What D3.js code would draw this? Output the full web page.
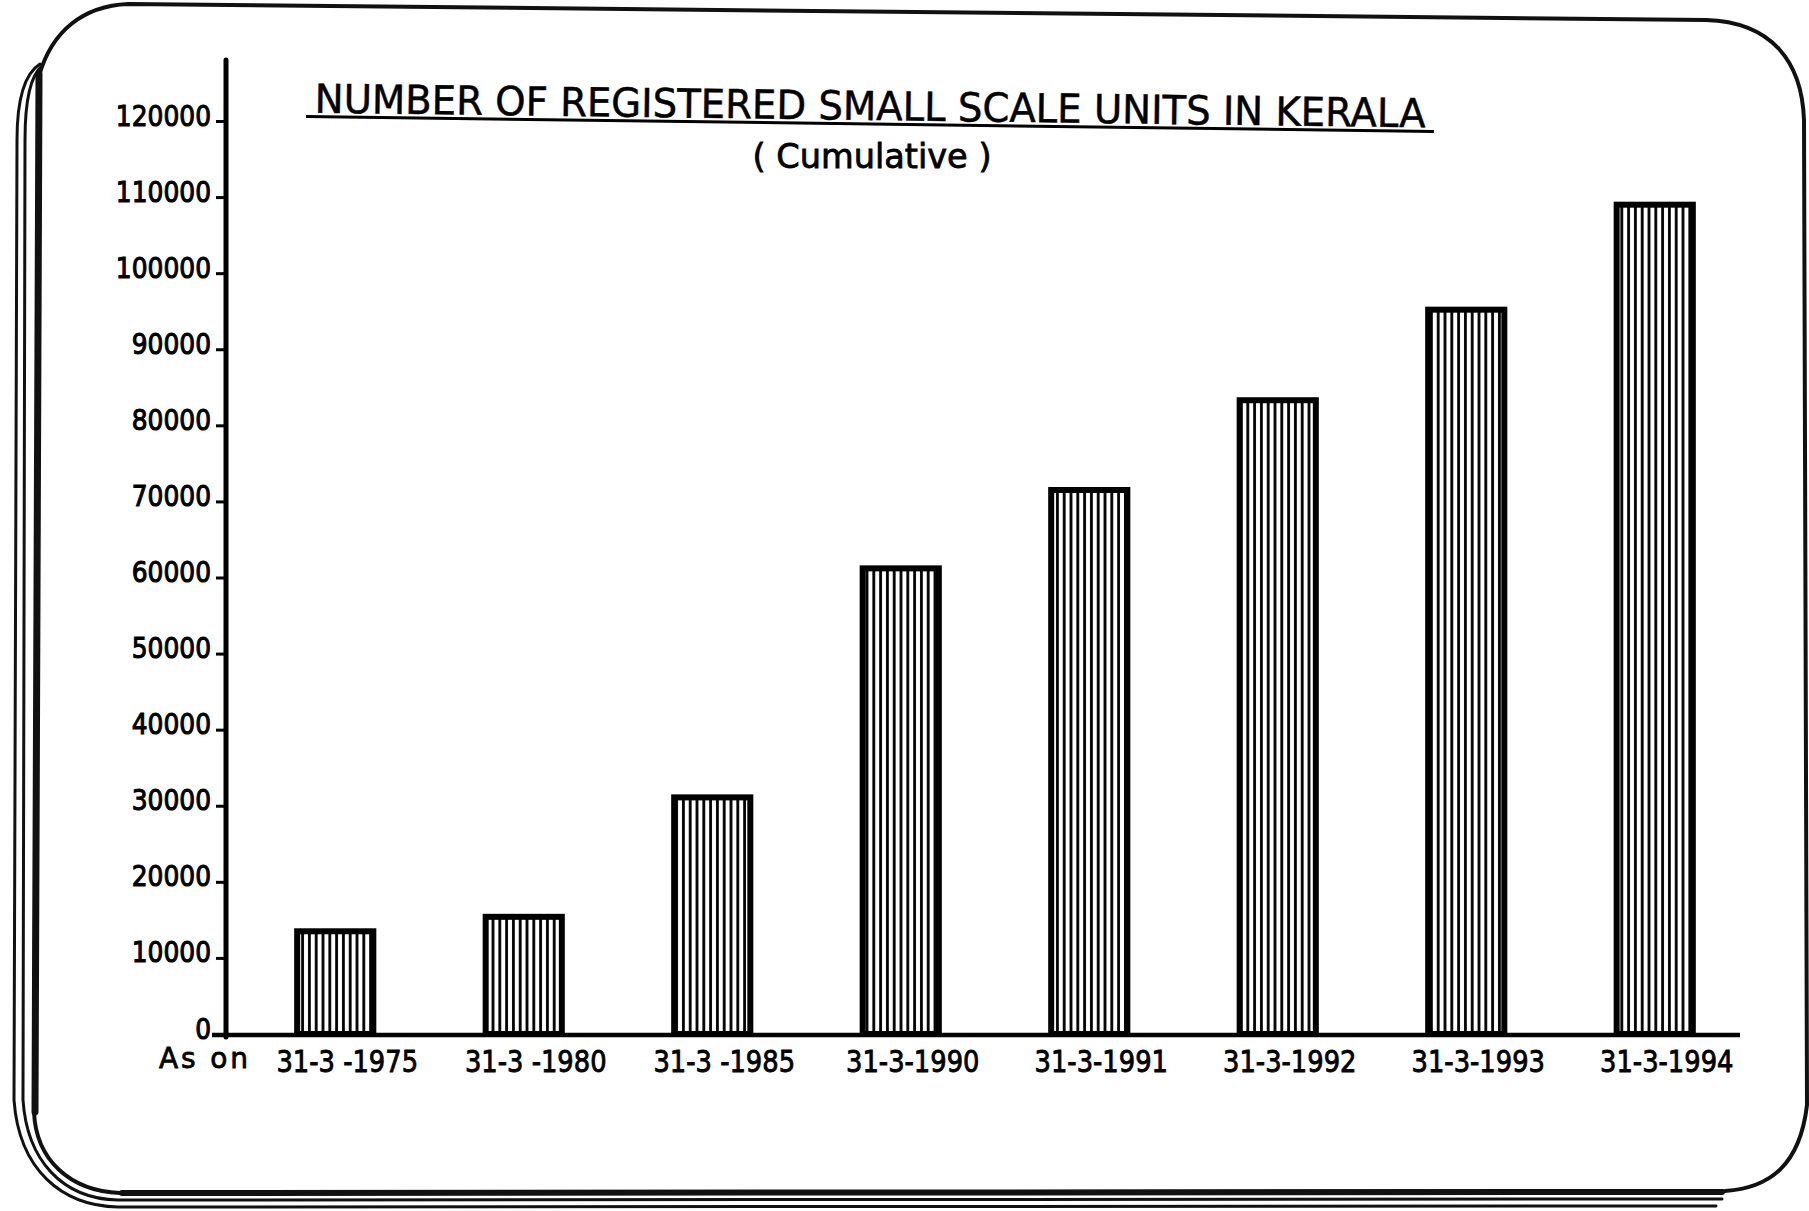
<!DOCTYPE html>
<html><head><meta charset="utf-8">
<script src="https://cdn.jsdelivr.net/npm/d3@7"></script>
<style>html,body{margin:0;padding:0;background:#fff;} svg{display:block;}</style>
</head><body>
<svg id="chart" width="1809" height="1211"></svg>
<script>
// ---- data ----
const categories = ["1975", "1980", "1985", "1990", "1991", "1992", "1993", "1994"];
const dateLabels = ["31-3 -1975", "31-3 -1980", "31-3 -1985", "31-3-1990", "31-3-1991", "31-3-1992", "31-3-1993", "31-3-1994"];
const unitsRegistered = [13500, 15400, 31100, 61200, 71500, 83300, 95200, 109000];
const yTickValues = [0, 10000, 20000, 30000, 40000, 50000, 60000, 70000, 80000, 90000, 100000, 110000, 120000];
const titleText = "NUMBER OF REGISTERED SMALL SCALE UNITS IN KERALA";
const subtitleText = "( Cumulative )";
const axisPrefix = "As on";

// ---- drawing ----
const W = 1809, H = 1211;
const svg = d3.select("#chart");
const FONT = "'DejaVu Sans', 'Liberation Sans', sans-serif";
const SX = 0.86; // horizontal condensing of lettering

svg.append("rect").attr("width", W).attr("height", H).attr("fill", "#fff");

// stripe pattern for bars
const defs = svg.append("defs");
const pat = defs.append("pattern").attr("id", "stripes")
  .attr("patternUnits", "userSpaceOnUse").attr("width", 6.8).attr("height", 20);
pat.append("rect").attr("width", 6.8).attr("height", 20).attr("fill", "#fff");
pat.append("rect").attr("x", 2).attr("width", 2.8).attr("height", 20).attr("fill", "#000");

// frame
const frame = svg.append("g").attr("fill", "none").attr("stroke", "#111").attr("stroke-linecap", "round");
frame.append("path").attr("stroke-width", 4)
  .attr("d", "M 128,4 L 1706,20 C 1772,22 1802,62 1804,120 L 1807,1105 C 1800,1165 1770,1188 1725,1191 L 120,1193 C 70,1191 36,1160 34,1112 L 39,76 C 52,30 84,6 128,4 Z");
frame.append("path").attr("stroke-width", 7).attr("d", "M 39,74 L 35,1112");
frame.append("path").attr("stroke-width", 6).attr("d", "M 122,1193 L 1722,1192");
frame.append("path").attr("stroke-width", 3)
  .attr("d", "M 42,66 C 30,76 25,100 25,140 L 23,1100 C 27,1160 62,1199 118,1200 L 1722,1199");
frame.append("path").attr("stroke-width", 3)
  .attr("d", "M 40,64 C 24,74 17,100 17,140 L 14,1100 C 19,1170 62,1206 118,1207 L 1716,1206");

// scales
const x = d3.scaleBand().domain(categories).range([241, 1749]).paddingInner(0.596).paddingOuter(0.298);
const y = d3.scaleLinear().domain([0, 120000]).range([1034, 121]);

// bars
svg.append("g").selectAll("rect").data(categories).join("rect")
  .attr("x", d => x(d))
  .attr("y", (d, i) => y(unitsRegistered[i]))
  .attr("width", x.bandwidth())
  .attr("height", (d, i) => y(0) - y(unitsRegistered[i]))
  .attr("fill", "url(#stripes)")
  .attr("stroke", "#000").attr("stroke-width", 6);

// y axis
const axisX = 226;
const yAxis = svg.append("g").attr("transform", `translate(${axisX},0)`)
  .call(d3.axisLeft(y).tickValues(yTickValues).tickSize(10).tickFormat(d3.format("d")));
yAxis.select(".domain").remove();
yAxis.selectAll(".tick line").attr("stroke", "#000").attr("stroke-width", 3);
yAxis.selectAll(".tick text")
  .attr("font-family", FONT).attr("font-size", 29).attr("fill", "#000")
  .attr("stroke", "#000").attr("stroke-width", 1.1)
  .attr("text-anchor", "end")
  .attr("x", -15 / SX).attr("dy", 0).attr("y", 4)
  .attr("transform", `scale(${SX},1)`);
svg.append("line").attr("x1", axisX).attr("x2", axisX).attr("y1", 60).attr("y2", 1037)
  .attr("stroke", "#000").attr("stroke-width", 5).attr("stroke-linecap", "round");

// x axis
const baseY = 1035;
const xAxis = svg.append("g").attr("transform", `translate(0,${baseY})`)
  .call(d3.axisBottom(x).tickSize(0).tickFormat((d, i) => dateLabels[i]));
xAxis.select(".domain").remove();
xAxis.selectAll(".tick text")
  .attr("font-family", FONT).attr("font-size", 30).attr("fill", "#000")
  .attr("stroke", "#000").attr("stroke-width", 0.9)
  .attr("text-anchor", "middle")
  .attr("x", 12 / SX).attr("dy", 0).attr("y", 37)
  .attr("transform", `scale(${SX},1)`);
svg.append("line").attr("x1", 212).attr("x2", 1740).attr("y1", baseY).attr("y2", baseY)
  .attr("stroke", "#000").attr("stroke-width", 4.5);

svg.append("text").attr("x", 159).attr("y", 1068)
  .attr("font-family", FONT).attr("font-size", 28).attr("fill", "#000")
  .attr("stroke", "#000").attr("stroke-width", 0.8)
  .attr("textLength", 89).attr("lengthAdjust", "spacing")
  .text(axisPrefix);

// title (slightly tilted as in the hand-lettered original)
const tg = svg.append("g").attr("transform", "rotate(0.76, 870, 120)");
tg.append("text").attr("x", 870).attr("y", 120)
  .attr("text-anchor", "middle")
  .attr("font-family", FONT).attr("font-size", 40).attr("fill", "#000")
  .attr("stroke", "#000").attr("stroke-width", 0.5)
  .attr("textLength", 1111).attr("lengthAdjust", "spacingAndGlyphs")
  .text(titleText);
tg.append("line").attr("x1", 306).attr("x2", 1434).attr("y1", 124).attr("y2", 124)
  .attr("stroke", "#000").attr("stroke-width", 3);

svg.append("text").attr("x", 872).attr("y", 168)
  .attr("text-anchor", "middle")
  .attr("font-family", FONT).attr("font-size", 34).attr("fill", "#000")
  .attr("stroke", "#000").attr("stroke-width", 0.8)
  .attr("textLength", 239).attr("lengthAdjust", "spacingAndGlyphs")
  .text(subtitleText);
</script>
</body></html>
